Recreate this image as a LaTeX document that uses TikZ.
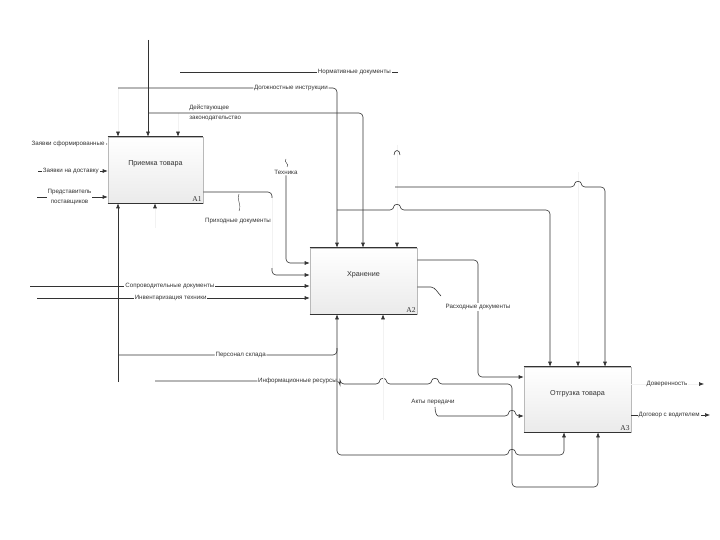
\documentclass[tikz,border=0pt]{standalone}
\usepackage{fontspec}
\setmainfont{Liberation Sans}
\newfontfamily\numfont{Liberation Serif}
\usetikzlibrary{arrows.meta, positioning, calc}

\begin{document}
\begin{tikzpicture}[x=1pt, y=-1pt, line width=0.6pt, color=black!80,
    >={Latex[length=5pt,width=4pt]},
    func/.style={rectangle, draw=gray!55, top color=white, bottom color=gray!16, inner sep=0pt},
    ttl/.style={font=\fontsize{7.2}{9}\selectfont, yshift=6pt},
    num/.style={font=\numfont\fontsize{7.5}{8}\selectfont, anchor=south east, inner sep=1.5pt},
    lbl/.style={fill=white, inner sep=1pt, align=center, font=\fontsize{6.2}{7}\selectfont},
    twoline/.style={lbl, font=\fontsize{6.2}{10.5}\selectfont},
    faint/.style={draw=black!5},
    tip/.style={-{Latex[length=5pt,width=4pt,color=black!80]}},
    arr/.style={->},
    wire/.style={rounded corners=4pt}]

    \useasboundingbox (0,0) rectangle (720,540);

    % functional blocks
    \node[func, minimum width=95pt, minimum height=66pt, label={[ttl]center:Приемка товара}] (a1) at (155.5,170) {};
    \node[func, minimum width=107pt, minimum height=66pt, label={[ttl]center:Хранение}] (a2) at (363.5,281) {};
    \node[func, minimum width=107pt, minimum height=65pt, label={[ttl]center:Отгрузка товара}] (a3) at (577.5,399.5) {};
    \foreach \b in {a1,a2,a3}
        \draw (\b.north west) -- (\b.north east) (\b.south west) -- (\b.south east);
    \node[num] at (a1.south east) {A1};
    \node[num] at (a2.south east) {A2};
    \node[num] at (a3.south east) {A3};

    % controls
    \coordinate (ctop) at (148,40);
    \draw[arr] (ctop) -- (ctop |- a1.north);

    \coordinate (nd1) at (180,72);
    \coordinate (nd2) at (398,72);
    \draw (nd1) -- node[lbl, pos=0.8] {Нормативные документы} (nd2);

    \coordinate (di) at (118,88);
    \coordinate (di2) at (337,88);
    \draw[faint, tip] (di) -- (di |- a1.north);
    \draw[arr, wire] (di) -- node[lbl, pos=0.79] {Должностные инструкции} (di2) -- (di2 |- a2.north);

    \coordinate (dz) at (148,113);
    \coordinate (dz2) at (363,113);
    \coordinate (dz3) at (178,113);
    \draw[faint, tip] (dz3) -- (dz3 |- a1.north);
    \draw[arr, wire] (dz) -- (dz2) -- (dz2 |- a2.north);
    \node[twoline, fill=none, anchor=west, align=left] at (188,113) {Действующее\\законодательство};

    \coordinate (f397) at (397,145);
    \draw[faint, tip] (f397) -- (f397 |- a2.north);
    \draw (394,155) .. controls (394,149) and (400,149) .. (400,155);
    \coordinate (f578) at (578,172);
    \draw[faint, tip] (f578) -- (f578 |- a3.north);

    \coordinate (b1) at (337,210);
    \coordinate (b1e) at (550,210);
    \draw[arr, wire] (b1) -- (394,210) .. controls (394,204) and (400,204) .. (400,210) -- (b1e) -- (b1e |- a3.north);

    \coordinate (b2) at (395,187);
    \coordinate (b2e) at (605,187);
    \draw[arr, wire] (b2) -- (575,187) .. controls (575,181) and (581,181) .. (581,187) -- (b2e) -- (b2e |- a3.north);

    % inputs of A1
    \coordinate (i1) at (33,144);
    \draw[arr] (i1) -- node[lbl, pos=0.47] {Заявки сформированные} (i1 -| a1.west);
    \coordinate (i2) at (38,171);
    \draw[arr] (i2) -- node[lbl, pos=0.47] {Заявки на доставку} (i2 -| a1.west);
    \coordinate (i3) at (37,197);
    \draw[arr] (i3) -- node[twoline, pos=0.46] {Представитель\\поставщиков} (i3 -| a1.west);

    % output of A1
    \coordinate (pd) at (272,192);
    \coordinate (pd2) at (272,268);
    \coordinate (a2pd) at (a2.west |- 0,275);
    \draw[wire] (a1.east |- pd) -- (pd) -- ++(0,6);
    \draw[faint] (272,198) -- (pd2);
    \draw[arr, wire] (pd2) -- (pd2 |- a2pd) -- (a2pd);
    \draw[line width=0.4pt] (239,194) .. controls (236,199) and (242,204) .. (239,211);
    \node[lbl, fill=none] at (238,221) {Приходные документы};

    % inputs of A2
    \node[lbl, fill=none] (tech) at (286,172) {Техника};
    \draw[line width=0.4pt] (286,159) .. controls (283,162) and (290,164) .. (287,167);
    \coordinate (a2tk) at (a2.west |- 0,263);
    \draw[arr, wire] (tech.south) -- (tech.south |- a2tk) -- (a2tk);

    \coordinate (s1) at (30,286);
    \draw[arr] (s1) -- node[lbl, pos=0.5] {Сопроводительные документы} (s1 -| a2.west);
    \coordinate (s2) at (37,298);
    \draw[arr] (s2) -- node[lbl, pos=0.49] {Инвентаризация техники} (s2 -| a2.west);

    % mechanisms
    \coordinate (m1) at (118,382);
    \draw[arr] (m1) -- (m1 |- a1.south);
    \coordinate (f155) at (155,228);
    \draw[faint, tip] (f155) -- (f155 |- a1.south);
    \coordinate (ps) at (118,355);
    \draw[wire] (ps) -- node[lbl, pos=0.56] {Персонал склада} (337,355) -- (337,348);

    \coordinate (ir) at (155,381);
    \draw[arr, wire] (ir) -- node[lbl, pos=0.77] {Информационные ресурсы} (340,381) -- (340,384)
        -- (380,384) .. controls (380,378) and (386,378) .. (386,384)
        -- (432,384) .. controls (432,378) and (438,378) .. (438,384)
        -- (512,384) -- (512,487) -- (598,487) -- (598,0 |- a3.south);

    \coordinate (f383) at (383,420);
    \draw[faint, tip] (f383) -- (f383 |- a2.south);

    \coordinate (m2) at (337,455);
    \coordinate (m2top) at (m2 |- a2.south);
    \draw[<->, wire] (m2top) -- (m2) -- (509,455) .. controls (509,449) and (515,449) .. (515,455)
        -- (564,455) -- (564,0 |- a3.south);

    % outputs of A2
    \coordinate (rd) at (478,260);
    \coordinate (a3rd) at (a3.west |- 0,377);
    \draw[arr, wire] (a2.east |- rd) -- (rd) -- (rd |- a3rd) -- (a3rd);
    \node[lbl] at (478,307) {Расходные документы};
    \draw (a2.east |- 0,287) -- (431,287) .. controls (436,288) and (437,292) .. (441,296);

    \node[lbl, fill=none] (akt) at (433,402) {Акты передачи};
    \coordinate (a3ak) at (a3.west |- 0,416);
    \draw[arr, wire] (435,407) .. controls (435,413) and (437,416) .. (442,416)
        -- (509,416) .. controls (509,410) and (515,410) .. (515,416) -- (a3ak);

    % outputs of A3
    \coordinate (dv) at (704,384);
    \draw[faint, tip] (a3.east |- dv) -- node[lbl, pos=0.49] {Доверенность} (dv);
    \coordinate (dg) at (710,415);
    \draw[arr] (a3.east |- dg) -- node[lbl, pos=0.48] {Договор с водителем} (dg);
\end{tikzpicture}
\end{document}
